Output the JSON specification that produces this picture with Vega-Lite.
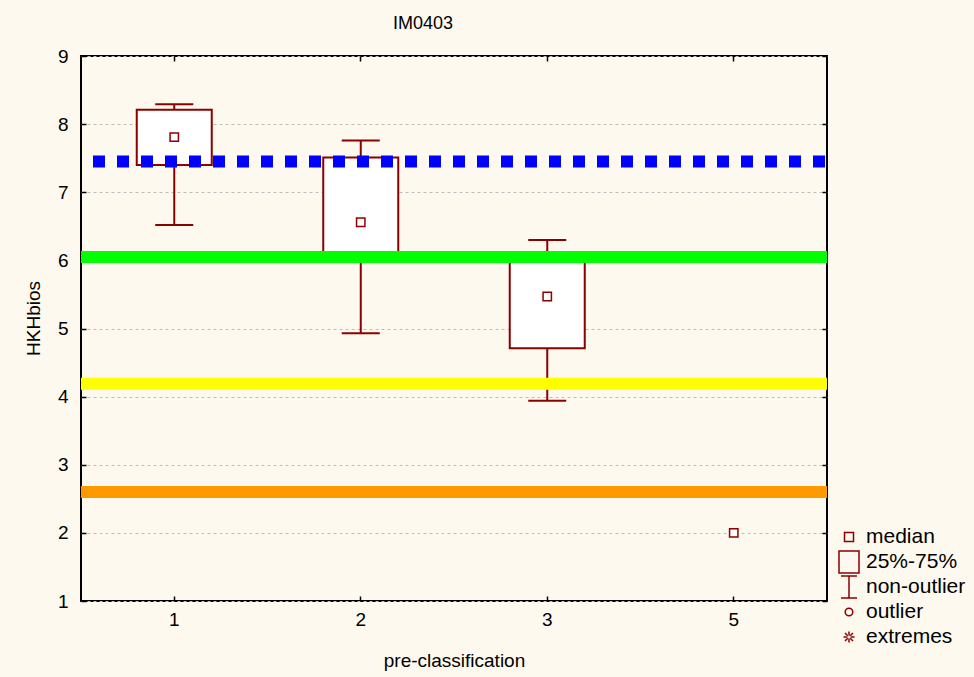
{
  "$schema": "https://vega.github.io/schema/vega-lite/v6.json",
  "width": 746,
  "height": 545,
  "autosize": {"type": "none"},
  "padding": {"left": 81, "top": 56, "right": 147, "bottom": 76},
  "background": "#FDF9EF",
  "title": {"text": "IM0403", "fontSize": 18, "fontWeight": "normal", "color": "black", "dx": -31, "offset": 14},
  "config": {
    "font": "Liberation Sans",
    "view": {"fill": "white", "stroke": "black", "strokeWidth": 2}
  },
  "resolve": {"axis": {"x": "independent", "y": "independent"}},
  "datasets": {
    "boxes": [
      {"cat": "1", "lo": 6.52, "q1": 7.40, "med": 7.81, "q3": 8.21, "hi": 8.29},
      {"cat": "2", "lo": 4.93, "q1": 6.05, "med": 6.56, "q3": 7.51, "hi": 7.76},
      {"cat": "3", "lo": 3.94, "q1": 4.71, "med": 5.47, "q3": 6.00, "hi": 6.30},
      {"cat": "5", "med": 2.0}
    ],
    "levels": [
      {"level": "upper", "v": 7.45},
      {"level": "high", "v": 6.05},
      {"level": "mid", "v": 4.19},
      {"level": "low", "v": 2.60}
    ],
    "legendItems": [
      {"item": "median"},
      {"item": "25%-75%"},
      {"item": "non-outlier"},
      {"item": "outlier"},
      {"item": "extremes"}
    ]
  },
  "layer": [
    {
      "data": {"name": "boxes"},
      "mark": {"type": "rule", "color": "#8B0000", "strokeWidth": 2},
      "encoding": {
        "x": {"field": "cat", "type": "nominal",
          "scale": {"type": "band", "domain": ["1", "2", "3", "5"], "paddingInner": 0, "paddingOuter": 0},
          "axis": {"orient": "bottom", "labelAngle": 0, "labelFontSize": 19, "labelColor": "black", "labelPadding": 14,
            "tickSize": -5, "tickColor": "black", "tickWidth": 1.5, "domain": false, "grid": false,
            "title": "pre-classification", "titleFontSize": 19, "titleFontWeight": "normal", "titleColor": "black",
            "titleY": 59, "titleBaseline": "middle"}},
        "y": {"field": "lo", "type": "quantitative",
          "scale": {"domain": [1, 9], "nice": false, "zero": false},
          "axis": {"orient": "left", "values": [1, 2, 3, 4, 5, 6, 7, 8, 9], "format": "d", "labelFontSize": 19, "labelColor": "black",
            "labelPadding": 18, "labelFlush": false, "tickSize": -5, "tickColor": "black", "tickWidth": 1.5, "domain": false,
            "grid": true, "gridColor": "#BDBDBD", "gridDash": [3, 3], "gridWidth": 1,
            "title": "HKHbios", "titleFontSize": 19, "titleFontWeight": "normal", "titleColor": "black",
            "titleX": -48, "titleY": 262, "titleAngle": -90, "titleAlign": "center", "titleBaseline": "middle"}},
        "y2": {"field": "hi"}
      }
    },
    {
      "data": {"name": "boxes"},
      "mark": {"type": "tick", "color": "#8B0000", "size": 38, "thickness": 2, "opacity": 1},
      "encoding": {
        "x": {"field": "cat", "type": "nominal", "scale": {"type": "band", "domain": ["1", "2", "3", "5"], "paddingInner": 0, "paddingOuter": 0}, "axis": null},
        "y": {"field": "lo", "type": "quantitative", "scale": {"domain": [1, 9], "nice": false, "zero": false}, "axis": null}
      }
    },
    {
      "data": {"name": "boxes"},
      "mark": {"type": "tick", "color": "#8B0000", "size": 38, "thickness": 2, "opacity": 1},
      "encoding": {
        "x": {"field": "cat", "type": "nominal", "scale": {"type": "band", "domain": ["1", "2", "3", "5"], "paddingInner": 0, "paddingOuter": 0}, "axis": null},
        "y": {"field": "hi", "type": "quantitative", "scale": {"domain": [1, 9], "nice": false, "zero": false}, "axis": null}
      }
    },
    {
      "data": {"name": "boxes"},
      "mark": {"type": "bar", "size": 75, "fill": "white", "stroke": "#8B0000", "strokeWidth": 2},
      "encoding": {
        "x": {"field": "cat", "type": "nominal", "scale": {"type": "band", "domain": ["1", "2", "3", "5"], "paddingInner": 0, "paddingOuter": 0}, "axis": null},
        "y": {"field": "q1", "type": "quantitative", "scale": {"domain": [1, 9], "nice": false, "zero": false}, "axis": null},
        "y2": {"field": "q3"}
      }
    },
    {
      "data": {"name": "levels"},
      "mark": {"type": "rule", "strokeWidth": 12, "strokeDashOffset": 22},
      "encoding": {
        "y": {"field": "v", "type": "quantitative", "scale": {"domain": [1, 9], "nice": false, "zero": false}, "axis": null},
        "color": {"field": "level", "type": "nominal",
          "scale": {"domain": ["upper", "high", "mid", "low"], "range": ["#0000FF", "#00FF00", "#FFFF00", "#FF9900"]}, "legend": null},
        "strokeDash": {"field": "level", "type": "nominal",
          "scale": {"domain": ["upper", "high", "mid", "low"], "range": [[12, 12], [1, 0], [1, 0], [1, 0]]}, "legend": null}
      }
    },
    {
      "data": {"name": "boxes"},
      "mark": {"type": "point", "shape": "square", "size": 70, "fill": "white", "stroke": "#8B0000", "strokeWidth": 1.5, "opacity": 1, "filled": false},
      "encoding": {
        "x": {"field": "cat", "type": "nominal", "scale": {"type": "band", "domain": ["1", "2", "3", "5"], "paddingInner": 0, "paddingOuter": 0},
          "axis": {"orient": "top", "labels": false, "ticks": true, "tickSize": -5, "tickColor": "black", "tickWidth": 1.5, "domain": false, "grid": false, "title": null}},
        "y": {"field": "med", "type": "quantitative", "scale": {"domain": [1, 9], "nice": false, "zero": false},
          "axis": {"orient": "right", "values": [1, 2, 3, 4, 5, 6, 7, 8, 9], "labels": false, "ticks": true, "tickSize": -5, "tickColor": "black", "tickWidth": 1.5, "domain": false, "grid": false, "title": null}}
      }
    },
    {
      "data": {"name": "legendItems"},
      "transform": [{"filter": "false"}],
      "mark": {"type": "point", "opacity": 0},
      "encoding": {
        "shape": {"field": "item", "type": "nominal",
          "scale": {"domain": ["median", "25%-75%", "non-outlier", "outlier", "extremes"],
            "range": [
              "M-0.45,-0.45H0.45V0.45H-0.45Z",
              "M-1,-1.1H1V1.1H-1Z",
              "M-0.8,-1.1H0.8M0,-1.1V1.1M-0.8,1.1H0.8",
              "M0.38,0A0.38,0.38 0 1,1 -0.38,0A0.38,0.38 0 1,1 0.38,0",
              "M-0.55,0H-0.15M0.15,0H0.55M0,-0.55V-0.15M0,0.15V0.55M-0.4,-0.4L-0.12,-0.12M0.12,0.12L0.4,0.4M-0.4,0.4L-0.12,0.12M0.12,-0.12L0.4,-0.4"
            ]},
          "legend": {"orient": "none", "legendX": 757, "legendY": 470, "title": null, "padding": 0, "gridAlign": "all",
            "symbolSize": 400, "symbolStrokeWidth": 1.5, "symbolStrokeColor": "#8B0000", "symbolFillColor": "transparent",
            "symbolOpacity": 1, "labelFontSize": 21, "labelColor": "black", "labelOffset": 6, "rowPadding": -3, "labelLimit": 200}}
      }
    }
  ]
}
